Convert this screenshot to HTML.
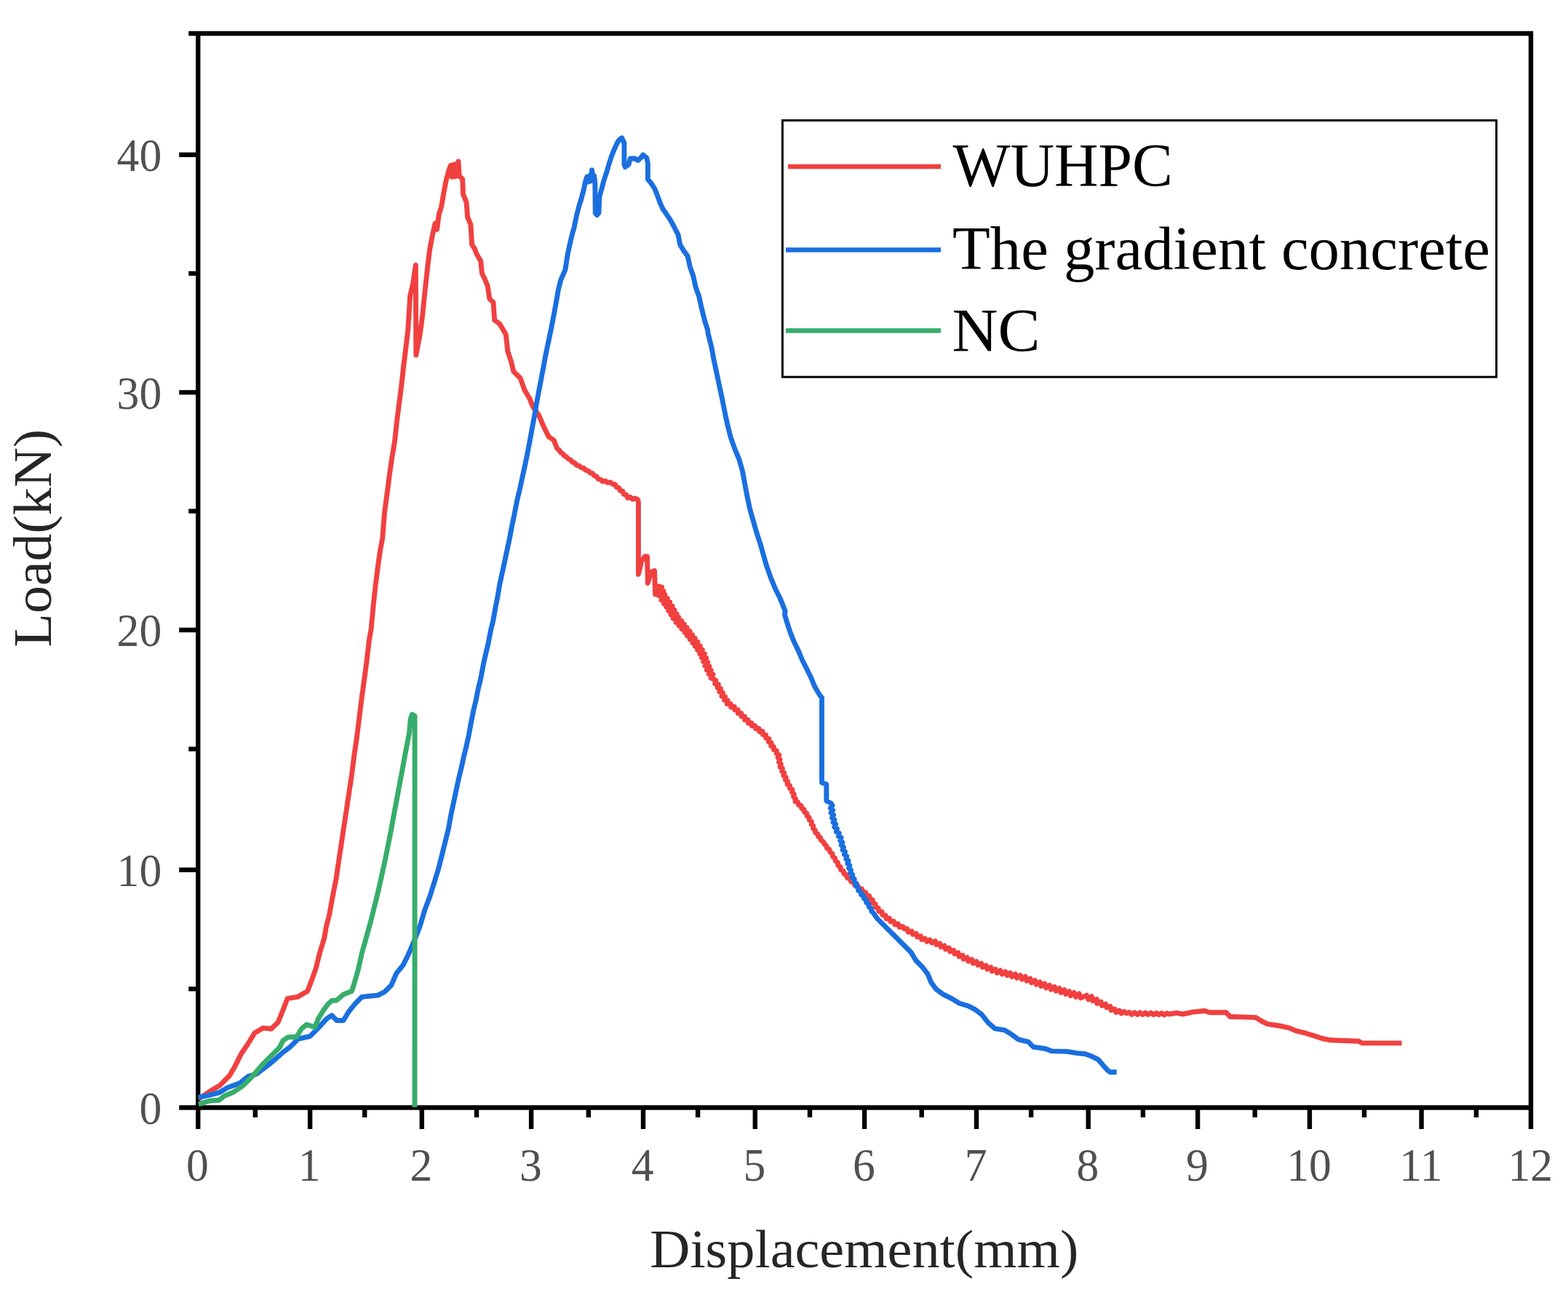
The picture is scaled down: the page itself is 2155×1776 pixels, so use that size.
<!DOCTYPE html>
<html lang="en"><head><meta charset="utf-8"><title>Load-displacement curves</title>
<style>html,body{margin:0;padding:0;background:#fff}svg{display:block}</style></head>
<body>
<svg xmlns="http://www.w3.org/2000/svg" width="2155" height="1776" viewBox="0 0 2155 1776">
<rect width="2155" height="1776" fill="#fff"/>
<defs><clipPath id="plot"><rect x="272.2" y="46.0" width="1831.8" height="1476.5"/></clipPath></defs>
<g stroke="#000" stroke-width="6.4" fill="none" stroke-linecap="butt">
<path stroke-linejoin="miter" d="M272.2 1551.9 V46.0 M259.2 46.0 H2104.0 V1551.9"/>
<path d="M246.2 1522.5 H2104.0"/>
<path d="M426.1 1522.5 v29.4 M579.8 1522.5 v29.4 M730.1 1522.5 v29.4 M884.0 1522.5 v29.4 M1037.8 1522.5 v29.4 M1188.1 1522.5 v29.4 M1342.0 1522.5 v29.4 M1495.7 1522.5 v29.4 M1646.1 1522.5 v29.4 M1799.9 1522.5 v29.4 M1953.6 1522.5 v29.4 M350.8 1522.5 v13.4 M501.2 1522.5 v13.4 M655.0 1522.5 v13.4 M808.8 1522.5 v13.4 M959.1 1522.5 v13.4 M1113.0 1522.5 v13.4 M1266.7 1522.5 v13.4 M1417.1 1522.5 v13.4 M1570.9 1522.5 v13.4 M1724.7 1522.5 v13.4 M1875.0 1522.5 v13.4 M2028.9 1522.5 v13.4 M272.2 1195.8 h-26 M272.2 866.0 h-26 M272.2 539.4 h-26 M272.2 212.7 h-26 M272.2 1359.4 h-13 M272.2 1029.6 h-13 M272.2 702.6 h-13 M272.2 375.9 h-13"/>
</g>
<g fill="none" stroke-width="6.9" stroke-linejoin="round" stroke-linecap="butt" clip-path="url(#plot)">
<path stroke="#F14040" d="M272.7 1511 L287.7 1500.6 L301.5 1492.6 L315.3 1478.7 L323.4 1464.9 L331.4 1448.8 L340.7 1435 L349.9 1420 L361.4 1413.1 L372.9 1414.2 L382.3 1405 L389.2 1387.7 L395 1372.7 L408.8 1370.4 L422.6 1362.4 L428.4 1347.4 L434.1 1331.3 L439.9 1308.2 L445.6 1289.8 L448.4 1273.7 L452.6 1257.5 L457.2 1232.2 L461.8 1209.1 L465.2 1186.1 L468.7 1163 L472.1 1140 L476.2 1113.3 L479.6 1090.3 L483.1 1067.2 L486.6 1039.6 L490 1016.5 L493.5 988.9 L496.9 961.2 L500.4 935.9 L503.8 910.5 L507.3 880.6 L510.1 864.4 L513.1 832.2 L516.1 804.5 L519.3 779.2 L523 753.8 L525.7 740 L528.5 704.1 L532 678.7 L535.5 651.1 L538.9 628 L542.4 607.3 L545.4 579.7 L548.6 554.3 L551.6 531.3 L554.6 503.6 L557.8 478.3 L560.8 452.9 L563.6 407 L567.5 390 L571.3 364.5 L571.8 488 L577.2 459.8 L580.8 432.2 L584.3 397.6 L587.8 366 L590.6 343 L594.5 322.5 L598 306.9 L600.6 315.5 L603.2 294.8 L606.6 284.4 L610.1 263.7 L613.5 246.4 L617.2 233 L619.3 227.5 L620.8 243 L622.8 226.5 L625 243 L626.8 225.5 L628.4 242 L630 222 L631 241.2 L635.7 246.4 L636.5 267.2 L640.9 277.5 L642.6 298.3 L646.9 308.6 L648.6 336.3 L652.1 341.5 L655.5 350.1 L660.7 358.8 L662.5 376 L666.8 384.7 L670.2 393.3 L672.8 410.6 L678 415.8 L679.7 440 L686.7 445.2 L691.8 453.8 L695.3 460 L697.8 482.9 L702.4 496.7 L705.8 510.5 L715 519.7 L720.8 535.9 L727.7 547.4 L732.3 558.9 L740.4 570.4 L747.3 586.6 L754.2 600.4 L761.1 605 L765.7 616.5 L768.4 618.7 L770.5 621.7 L773.5 623.7 L775.6 626.6 L778.8 628.1 L781.1 630.9 L784.5 632.4 L786.7 635.2 L790.1 636.5 L792.3 639.4 L795.9 640.3 L798.6 642.8 L802.2 643.4 L804.7 646.1 L808.3 647 L810.8 649.8 L814.4 650.6 L816.5 653.8 L820 655 L821.9 658.2 L825.5 659.3 L828.2 661.7 L832 661.1 L835 663.4 L838.8 662.9 L841.8 665.4 L845.4 666 L846.9 669.5 L850.6 670.6 L852.2 674.2 L855.9 675.4 L857.1 679.2 L860.8 680.4 L862.5 684.4 L866.4 683.4 L869.3 686.1 L873.2 685 L876.4 686.8 L877.4 690 L877.4 789.5 L881.5 772 L886 765 L889.5 765 L890.3 801.5 L894.5 786.5 L899.5 784.5 L900.6 817 L904.5 806 L909.7 807.1 L902.8 813.3 L912 812.8 L905.3 818.9 L913.9 817.6 L908.8 824.9 L917.3 822.6 L912.4 829.8 L920.8 827.7 L915.7 834.6 L924.1 833.2 L918.8 839.8 L927.1 838.5 L922 845 L930.1 843.8 L925.1 850.2 L932.8 848.6 L929.1 855.6 L936.7 853.3 L933.1 860.2 L940.5 858 L937 864.9 L944.3 862.8 L941 869.5 L948.2 867.7 L944.6 874.2 L951.8 872.7 L948.3 879 L955.3 877.6 L952 883.9 L958.9 882.6 L955.4 888.6 L962.3 888 L958.7 893.7 L965.4 893.2 L961.9 898.9 L968.5 899 L964.3 904 L970.7 904.7 L966.6 909.6 L972.8 910.4 L968.9 915.3 L975 916.2 L971.3 921.1 L977.3 921.5 L974.2 926.5 L980 926.9 L977 931.9 L980.6 933.5 L983.8 935.3 L982.6 939.9 L987.3 940.7 L986 945.2 L990.5 946.6 L988.9 951 L993.4 952.4 L991.9 957 L996.5 957.7 L995.6 962.3 L1000.2 963 L999.4 967.6 L1004.1 967.4 L1004.7 972 L1009.3 971.4 L1009.7 975.8 L1014.2 975.8 L1014.3 980.3 L1018.8 980.4 L1018.9 984.9 L1023.4 985 L1023.5 989.4 L1027.9 989.5 L1028.3 994 L1032.7 993.6 L1033.5 997.9 L1037.8 997.6 L1038.7 1001.8 L1043 1001.5 L1043.8 1005.7 L1048.1 1005.4 L1048.4 1009.8 L1052.6 1010.4 L1052.7 1014.7 L1056.9 1015.6 L1056.3 1019.7 L1060.2 1021.1 L1059.6 1025.3 L1063.5 1026.6 L1063.4 1030.7 L1067.3 1031.8 L1067.3 1035.9 L1070.8 1037.7 L1069.1 1041.4 L1072.1 1044.1 L1070.4 1047.7 L1073.4 1050.4 L1072 1054.2 L1075.4 1056.3 L1074.5 1060.2 L1077.8 1062.4 L1076.9 1066.2 L1080.2 1068.3 L1079.4 1072.2 L1082.7 1074.3 L1082 1078.1 L1085.6 1079.9 L1085.5 1083.8 L1089 1085.4 L1088.5 1089.2 L1091.4 1091.6 L1090.5 1095.3 L1093.5 1097.8 L1092.9 1101.8 L1096.6 1102.7 L1097.5 1106.4 L1101.2 1107.5 L1101.6 1111.2 L1105 1112.6 L1105.5 1116.3 L1108.8 1118 L1109 1121.7 L1112.1 1123.6 L1112.3 1127.2 L1115.4 1129.3 L1115.1 1132.9 L1117.8 1135.3 L1117.6 1138.9 L1120.3 1141.2 L1120.7 1144.7 L1123.9 1146.4 L1124.6 1149.9 L1127.7 1151.6 L1128.4 1155.1 L1131.4 1156.9 L1132.7 1160 L1135.5 1162.3 L1136.6 1165.9 L1140 1167.7 L1140.9 1171.4 L1144.1 1173.6 L1144.5 1177.5 L1147.7 1179.6 L1148.1 1183.5 L1151.4 1185.7 L1151.7 1189.6 L1155.1 1191.7 L1155.6 1195.7 L1159.2 1197.3 L1159.9 1201.2 L1163.7 1202.8 L1164.5 1206.8 L1168.4 1207.8 L1169.5 1211.8 L1173.5 1212.8 L1174.7 1216.7 L1178.8 1217.2 L1180.2 1221.1 L1184.4 1221.6 L1185.5 1225.6 L1189.6 1226.5 L1190.4 1230.7 L1194.7 1231.4 L1195.4 1235.7 L1199.4 1237 L1199.2 1241.3 L1203.3 1242.8 L1203.1 1247.2 L1207.2 1248.4 L1207.8 1252.8 L1212.2 1253.4 L1212.7 1257.9 L1217.2 1258.4 L1218.1 1262.8 L1222.6 1262.4 L1223.9 1266.9 L1228.5 1266.4 L1229.8 1270.9 L1234.4 1270 L1235.9 1274.5 L1240.6 1273.5 L1242.8 1276.7 L1246.7 1276.8 L1248.4 1281.3 L1253 1280 L1254.7 1284.5 L1259.4 1283.3 L1260.7 1288 L1265.5 1286.8 L1266.8 1291.6 L1271.2 1290.1 L1273.8 1294.3 L1278 1291.8 L1280.6 1296 L1285.3 1293.6 L1286.8 1298.4 L1291.6 1296.7 L1293.1 1301.6 L1297.9 1299.9 L1299.4 1304.8 L1304.3 1303 L1305.7 1308 L1310.6 1306.2 L1311.9 1311.2 L1316.9 1309.6 L1318 1314.8 L1323 1313.2 L1324.1 1318.4 L1329.1 1316.2 L1330.8 1321.3 L1335.6 1318.9 L1337.3 1324.1 L1342.1 1321.6 L1343.8 1326.8 L1348.7 1324.3 L1350.3 1329.5 L1355.2 1327 L1356.8 1332.3 L1361.8 1329.7 L1363.3 1335 L1368 1332.3 L1370.3 1337.4 L1374.8 1334 L1377.2 1339.1 L1381.7 1335.7 L1384.1 1340.9 L1388.6 1337.3 L1390.9 1342.6 L1395.4 1339 L1397.7 1344.3 L1402.3 1340.7 L1404.6 1346.1 L1409.2 1342.4 L1411 1348.2 L1416 1345.1 L1417.5 1350.8 L1422.5 1347.6 L1424.3 1353.3 L1429.2 1349.9 L1430.9 1355.7 L1435.9 1352.2 L1437.7 1358 L1442.6 1354.3 L1444.4 1360.2 L1449.3 1356.4 L1451.2 1362.3 L1456.1 1358.5 L1457.9 1364.5 L1462.8 1360.6 L1464.6 1366.6 L1469.6 1362.7 L1471.3 1368.8 L1476.1 1364.5 L1478.5 1370.4 L1483 1365.9 L1485.4 1371.9 L1489.4 1370 L1493.4 1368.1 L1495.9 1373.9 L1500.4 1369.6 L1501.7 1375.7 L1507.3 1373.5 L1507.8 1379.4 L1513.2 1377.1 L1514.5 1382.5 L1519.6 1380.2 L1520.9 1384.9 L1526 1383.3 L1527 1388.5 L1532 1387.1 L1534 1391.6 L1538.2 1389 L1541 1393 L1545.1 1390.6 L1548.3 1392.9 L1552 1391.5 L1555.7 1394.5 L1559.4 1391.7 L1563.1 1394.6 L1566.9 1391.9 L1570.5 1394.7 L1574.3 1392.1 L1577.9 1394.7 L1581.7 1392.2 L1585.3 1394.8 L1589.1 1392.4 L1592.8 1394.9 L1596.5 1392.6 L1600.2 1395 L1603.9 1392.8 L1607.6 1394 L1616.7 1392.4 L1625.8 1394 L1639.5 1391.1 L1655.4 1389.5 L1662.2 1391.8 L1685 1391.8 L1690.7 1397.5 L1726 1398.6 L1732.9 1403.2 L1742 1407.7 L1757.9 1410 L1771.6 1412.9 L1780.7 1416.8 L1794.4 1420.2 L1805.8 1423.7 L1817.2 1427.5 L1828.6 1429.8 L1867.3 1431.2 L1871.8 1433.9 L1926.5 1433.9"/>
<path stroke="#1A6FDF" d="M272.7 1508.7 L283 1506.4 L301.5 1501.8 L313 1494.9 L329.1 1489.1 L340.7 1479.9 L352.2 1476.4 L370.6 1462.6 L389 1446.5 L398.3 1439.6 L409.8 1428 L425.9 1424.6 L437.4 1413.1 L449 1400.4 L455.9 1395.8 L462.8 1402.7 L472 1402.7 L478.9 1391.2 L488.1 1379.7 L497.3 1370.4 L519.4 1368.1 L528.6 1363.5 L537.8 1354.3 L544.7 1338.2 L554 1326.7 L560.9 1312.8 L567.8 1296.7 L577 1273.7 L583.9 1250.6 L590.8 1232.2 L596.6 1213.7 L602.3 1195.3 L607 1176.9 L611.6 1158.4 L616.2 1140 L620.2 1117.9 L623.7 1101.8 L627.1 1085.7 L630.6 1069.5 L634 1055.7 L637.5 1039.6 L641 1025.7 L644.4 1009.6 L647.4 993.5 L650.6 977.3 L653.9 963.5 L657.1 947.4 L660.5 933.6 L664 915.1 L667.5 899 L670.9 885.2 L674.4 866.7 L677.8 852.9 L680.6 836.8 L683.8 820.7 L687 802.2 L690.5 786.1 L694 770 L697.4 753.8 L700.4 740 L703.7 722.5 L707.1 706.4 L710.6 688 L714 674.1 L717.5 658 L721 641.9 L724.4 625.7 L727.9 607.3 L731.3 588.9 L734.8 570.4 L737.5 554.3 L740.5 538.2 L744 519.7 L747.5 501.3 L750.9 482.9 L754.4 466.7 L757.8 450.6 L761.3 432.2 L764.7 413.7 L767.3 398.5 L770.8 384.7 L776.9 370.8 L780.3 348.4 L783.8 332.8 L787.2 319 L789.2 312.1 L792.4 296.4 L795.7 283.5 L798.9 273.4 L802.1 261.4 L804.4 250.3 L806.7 243 L808.6 250 L810.3 241.5 L812 249 L813.6 233.7 L815.2 247 L816.6 241.5 L817.8 252.2 L818.2 293 L820.6 295.5 L822.9 292.7 L823.8 270.6 L827 259.5 L829.8 248.5 L833.5 237.4 L836.7 226.4 L839.9 216.2 L843.1 207.9 L846.4 200.6 L849.6 194.1 L852.8 190.5 L854.7 189.6 L857.9 196.9 L857.9 226.4 L859.3 229.5 L863.9 226.4 L866.2 218 L872.2 217.7 L876.8 220.4 L880.5 217.2 L883.7 213 L888.8 217 L890.4 224.5 L890.4 246.6 L895.2 252.2 L899.8 259.5 L903.5 268.8 L907.2 278.9 L910.9 287.2 L915.5 293.6 L921 301.9 L925.6 310.2 L929.8 318.5 L932 322.5 L934.6 336.3 L939.8 344.9 L945 351.8 L948.5 367.4 L952.8 379.5 L956.2 395 L960.6 407.1 L964 422.7 L968.3 440 L972.6 453.8 L973.1 458.4 L977.8 476.9 L981.2 495.3 L984.7 511.4 L988.1 527.6 L991.6 543.7 L995.7 564.4 L999.6 582.9 L1004.3 601.3 L1010 617.4 L1015.8 631.3 L1020.4 647.4 L1023.8 665.8 L1027.3 684.3 L1030.8 700.4 L1035.4 716.5 L1040 732.7 L1044.6 746.5 L1049.2 762.6 L1053.8 778.7 L1059.6 794.9 L1065.3 808.7 L1072.2 822.5 L1079.1 840 L1078.5 845.3 L1082 856.8 L1086.6 870.6 L1091.2 882.1 L1096.9 893.7 L1102.7 907.5 L1108.5 919 L1114.2 930.5 L1120 944.3 L1126.9 955.9 L1129.5 959 L1129.5 1076 L1135.8 1078 L1135.8 1101 L1142 1104 L1144 1107.1 L1141.2 1110.8 L1144.7 1113.7 L1142 1117.4 L1145.6 1120.2 L1143.4 1124.1 L1147 1126.7 L1145 1130.6 L1148.7 1133 L1146.8 1137 L1150.5 1139.2 L1149.4 1143.4 L1153.3 1145.2 L1152.2 1149.4 L1156.1 1151.3 L1154.6 1155.3 L1158 1157.9 L1156.2 1161.8 L1159.5 1164.4 L1158 1168.3 L1161.5 1170.6 L1160.3 1174.6 L1163.8 1176.8 L1162.7 1180.8 L1166.1 1183.1 L1164.8 1187 L1167.9 1189.6 L1166.6 1193.4 L1169.6 1196 L1168.6 1199.8 L1171.7 1202.3 L1170.8 1206.3 L1174.3 1208.2 L1173.9 1212.2 L1177.1 1214.4 L1176.4 1218.2 L1179.6 1220.4 L1179.6 1224.2 L1183 1226.1 L1183.4 1229.9 L1187 1231.2 L1187.3 1235 L1190.6 1237 L1190.7 1240.7 L1193.9 1242.7 L1194.2 1246.5 L1197.3 1248.5 L1197.6 1252.2 L1200 1254.6 L1205.9 1262.9 L1215.1 1272.1 L1224.3 1281.3 L1233.6 1290.5 L1242.8 1299.7 L1252 1309 L1258.9 1320.5 L1268.1 1329.7 L1275 1338.9 L1279.7 1350.4 L1286.6 1359.7 L1295.8 1366.6 L1307.3 1372.3 L1318.8 1379.2 L1330.4 1382.7 L1339.6 1387.3 L1348.8 1394.2 L1358 1405.7 L1367.2 1413.8 L1381 1416.1 L1390.3 1421.9 L1399.5 1428.8 L1413.3 1432.2 L1420.2 1439.2 L1436.4 1441.5 L1445.6 1444.9 L1466.3 1445.4 L1480 1447.6 L1491.4 1448.7 L1500.5 1452.1 L1509.6 1456.7 L1516.4 1464.7 L1522 1471 L1526 1473.8 L1534.7 1473.8"/>
<path stroke="#37AD6B" d="M272.7 1517.9 L287.7 1513.3 L301.5 1512.2 L308.4 1506.4 L319.9 1501.8 L333.7 1492.6 L347.6 1478.7 L361.4 1462.6 L372.9 1451.1 L384.4 1439.6 L389 1430.4 L396 1425.7 L407.5 1425.3 L414.4 1414.2 L421.3 1408.5 L432.8 1411.9 L437.4 1400.4 L444.3 1388.9 L451.3 1379.7 L455.9 1375.5 L462.8 1375 L472 1367 L483.5 1362.4 L488.1 1347.4 L492.7 1331.3 L497.3 1310.5 L503.1 1289.8 L508.9 1269 L513.5 1250.6 L519.2 1227.6 L523.9 1206.8 L528.5 1186.1 L533.1 1163 L537.7 1140 L541.7 1117.9 L545.2 1099.5 L548.6 1081 L552.1 1062.6 L555.5 1044.2 L559 1025.7 L562.5 1007.3 L564.1 988.9 L566.4 982 L570.1 984.3 L570 1522"/>
</g>
<g font-family="'Liberation Serif', serif" font-size="63.5" fill="#505050" text-anchor="middle">
<text transform="translate(271.4 1622.9) scale(0.97 1)">0</text>
<text transform="translate(425.2 1622.9) scale(0.97 1)">1</text>
<text transform="translate(579.0 1622.9) scale(0.97 1)">2</text>
<text transform="translate(729.4 1622.9) scale(0.97 1)">3</text>
<text transform="translate(883.2 1622.9) scale(0.97 1)">4</text>
<text transform="translate(1037.0 1622.9) scale(0.97 1)">5</text>
<text transform="translate(1187.3 1622.9) scale(0.97 1)">6</text>
<text transform="translate(1341.2 1622.9) scale(0.97 1)">7</text>
<text transform="translate(1494.9 1622.9) scale(0.97 1)">8</text>
<text transform="translate(1645.3 1622.9) scale(0.97 1)">9</text>
<text transform="translate(1799.1 1622.9) scale(0.97 1)">10</text>
<text transform="translate(1952.8 1622.9) scale(0.97 1)">11</text>
<text transform="translate(2103.2 1622.9) scale(0.97 1)">12</text>
</g>
<g font-family="'Liberation Serif', serif" font-size="63.5" fill="#505050" text-anchor="end">
<text transform="translate(222.2 1544.8) scale(0.97 1)">0</text>
<text transform="translate(222.2 1218.1) scale(0.97 1)">10</text>
<text transform="translate(222.2 888.3) scale(0.97 1)">20</text>
<text transform="translate(222.2 561.7) scale(0.97 1)">30</text>
<text transform="translate(222.2 235.0) scale(0.97 1)">40</text>
</g>
<g font-family="'Liberation Serif', serif" fill="#262626">
<text x="893.3" y="1741.6" font-size="74" textLength="589" lengthAdjust="spacingAndGlyphs">Displacement(mm)</text>
<text transform="translate(70 889.8) rotate(-90)" font-size="74" textLength="300" lengthAdjust="spacingAndGlyphs">Load(kN)</text>
</g>
<rect x="1075.4" y="165.5" width="981.2" height="352.7" fill="#fff" stroke="#000" stroke-width="3"/>
<g stroke-width="6.5" fill="none">
<path stroke="#F14040" d="M1083 229 H1293"/>
<path stroke="#1A6FDF" d="M1080 343.4 H1293"/>
<path stroke="#37AD6B" d="M1080 454.5 H1293"/>
</g>
<g font-family="'Liberation Serif', serif" font-size="84" fill="#000">
<text x="1309.5" y="255.5" textLength="302.5" lengthAdjust="spacingAndGlyphs">WUHPC</text>
<text x="1309" y="369.5" textLength="739" lengthAdjust="spacingAndGlyphs">The gradient concrete</text>
<text x="1308.5" y="483" textLength="121" lengthAdjust="spacingAndGlyphs">NC</text>
</g>
</svg>
</body></html>
